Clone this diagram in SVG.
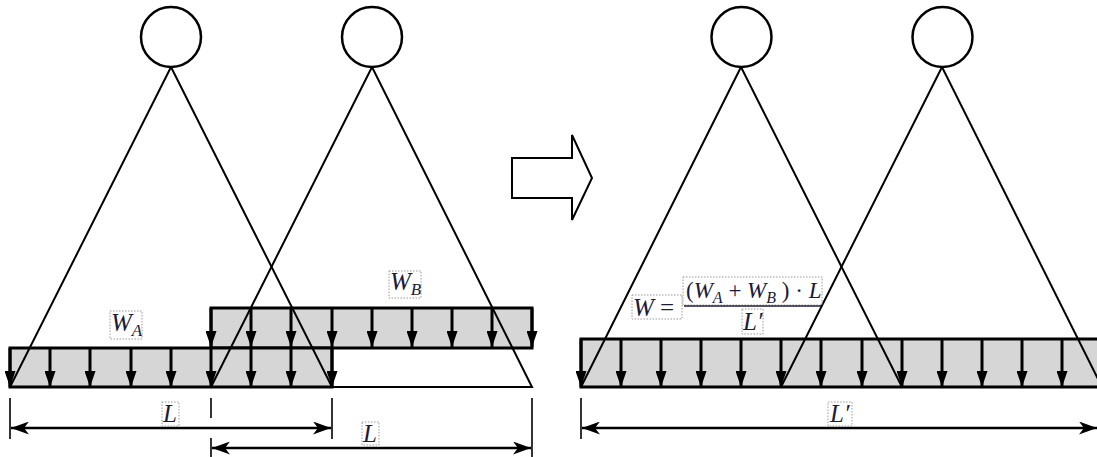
<svg xmlns="http://www.w3.org/2000/svg" width="1097" height="457" viewBox="0 0 1097 457">
<style>
.bar{fill:#d6d6d6;stroke:#000;stroke-width:3}
.tri{fill:none;stroke:#000;stroke-width:2}
.load{stroke:#000;stroke-width:3;marker-end:url(#lh)}
.dim{stroke:#000;stroke-width:2.5;marker-start:url(#dh);marker-end:url(#dh)}
.tick{stroke:#000;stroke-width:1.6}
.circ{fill:#fff;stroke:#000;stroke-width:2.5}
.lbl{fill:none;stroke:#9a9a9a;stroke-width:1;stroke-dasharray:1.5 1.5}
.m{font-family:"Liberation Serif",serif;font-style:italic;font-size:25px;fill:#1b1b3a}
.up{font-style:normal}
.sub{font-size:17px}
.num{font-size:23px}
.nsub{font-size:16px}
</style>
<defs>
<marker id="lh" viewBox="0 0 16 11" refX="16" refY="5.5" markerWidth="16" markerHeight="11" markerUnits="userSpaceOnUse" orient="auto"><path d="M0,0 L16,5.5 L0,11 z" fill="#000"/></marker>
<marker id="dh" viewBox="0 0 18 13" refX="18" refY="6.5" markerWidth="18" markerHeight="13" markerUnits="userSpaceOnUse" orient="auto-start-reverse"><path d="M0,0 L18,6.5 L0,13 L5,6.5 z" fill="#000"/></marker>
</defs>

<g id="before">
<g id="barB"><rect class="bar" x="211" y="308" width="321" height="40"/></g>
<g id="barA"><rect class="bar" x="10" y="348" width="322" height="39"/></g>
<g id="loadsA">
<line class="load" x1="10" y1="348" x2="10" y2="387"/>
<line class="load" x1="50" y1="348" x2="50" y2="387"/>
<line class="load" x1="90" y1="348" x2="90" y2="387"/>
<line class="load" x1="131" y1="348" x2="131" y2="387"/>
<line class="load" x1="171" y1="348" x2="171" y2="387"/>
<line class="load" x1="211" y1="348" x2="211" y2="387"/>
<line class="load" x1="251" y1="348" x2="251" y2="387"/>
<line class="load" x1="291" y1="348" x2="291" y2="387"/>
<line class="load" x1="332" y1="348" x2="332" y2="387"/>
</g>
<g id="loadsB">
<line class="load" x1="211" y1="308" x2="211" y2="347"/>
<line class="load" x1="251" y1="308" x2="251" y2="347"/>
<line class="load" x1="291" y1="308" x2="291" y2="347"/>
<line class="load" x1="332" y1="308" x2="332" y2="347"/>
<line class="load" x1="372" y1="308" x2="372" y2="347"/>
<line class="load" x1="412" y1="308" x2="412" y2="347"/>
<line class="load" x1="452" y1="308" x2="452" y2="347"/>
<line class="load" x1="492" y1="308" x2="492" y2="347"/>
<line class="load" x1="532" y1="308" x2="532" y2="347"/>
</g>
<g id="triA"><polyline class="tri" points="10,387 171,67 332,387"/></g>
<g id="triB"><polygon class="tri" points="211,387 372,67 532,387"/></g>
<g id="headA"><circle class="circ" cx="171" cy="37" r="30"/></g>
<g id="headB"><circle class="circ" cx="372" cy="37" r="30"/></g>
<g id="labelWA"><rect class="lbl" x="110" y="311" width="32" height="28"/><text class="m" x="111" y="331">W<tspan class="sub" dy="5">A</tspan></text></g>
<g id="labelWB"><rect class="lbl" x="389" y="271" width="32" height="27"/><text class="m" x="390" y="290">W<tspan class="sub" dy="5">B</tspan></text></g>
</g>

<g id="connectors">
<line class="tick" x1="10" y1="398" x2="10" y2="439"/>
<line class="tick" x1="211" y1="398" x2="211" y2="418"/>
<line class="tick" x1="332" y1="398" x2="332" y2="439"/>
<line class="tick" x1="211" y1="438" x2="211" y2="457"/>
<line class="tick" x1="532" y1="398" x2="532" y2="457"/>
<line class="dim" x1="11" y1="428" x2="331" y2="428"/>
<line class="dim" x1="212" y1="448" x2="531" y2="448"/>
<line class="tick" x1="581" y1="398" x2="581" y2="439"/>
<line class="dim" x1="582" y1="428" x2="1097" y2="428"/>
</g>

<g id="labelL1"><rect class="lbl" x="162" y="402" width="17" height="24"/><text class="m" x="163" y="422">L</text></g>
<g id="labelL2"><rect class="lbl" x="362" y="422" width="17" height="23"/><text class="m" x="363" y="442">L</text></g>
<g id="labelLp"><rect class="lbl" x="828" y="402" width="24" height="24"/><text class="m" x="830" y="422">L′</text></g>

<g id="blockArrow"><polygon points="512,158 572,158 572,135 592,178 572,220 572,198 512,198" fill="#fff" stroke="#000" stroke-width="2"/></g>

<g id="after">
<g id="barW"><rect class="bar" x="581" y="339" width="521" height="48"/></g>
<g id="loadsW">
<line class="load" x1="581" y1="339" x2="581" y2="387"/>
<line class="load" x1="621" y1="339" x2="621" y2="387"/>
<line class="load" x1="661" y1="339" x2="661" y2="387"/>
<line class="load" x1="701" y1="339" x2="701" y2="387"/>
<line class="load" x1="741" y1="339" x2="741" y2="387"/>
<line class="load" x1="781" y1="339" x2="781" y2="387"/>
<line class="load" x1="821" y1="339" x2="821" y2="387"/>
<line class="load" x1="862" y1="339" x2="862" y2="387"/>
<line class="load" x1="902" y1="339" x2="902" y2="387"/>
<line class="load" x1="942" y1="339" x2="942" y2="387"/>
<line class="load" x1="982" y1="339" x2="982" y2="387"/>
<line class="load" x1="1022" y1="339" x2="1022" y2="387"/>
<line class="load" x1="1062" y1="339" x2="1062" y2="387"/>
</g>
<g id="triC"><polyline class="tri" points="581,387 741,67 902,387"/></g>
<g id="triD"><polyline class="tri" points="781,387 942,67 1102,387"/></g>
<g id="headC"><circle class="circ" cx="741.5" cy="37" r="30"/></g>
<g id="headD"><circle class="circ" cx="942.5" cy="37" r="30"/></g>
<g id="formula">
<rect class="lbl" x="632" y="295" width="50" height="24"/>
<text class="m" x="633" y="316">W<tspan class="up"> =</tspan></text>
<rect class="lbl" x="683" y="277" width="139" height="28"/>
<text class="m num" x="686" y="298"><tspan class="up">(</tspan>W<tspan class="nsub" dy="5">A</tspan><tspan class="up" dy="-5"> + </tspan>W<tspan class="nsub" dy="5">B</tspan><tspan class="up" dy="-5"> ) · </tspan>L</text>
<line x1="684" y1="306" x2="821" y2="306" stroke="#1b1b3a" stroke-width="1.5"/>
<rect class="lbl" x="742" y="309" width="21" height="25"/>
<text class="m" x="743" y="330">L′</text>
</g>
</g>
</svg>
